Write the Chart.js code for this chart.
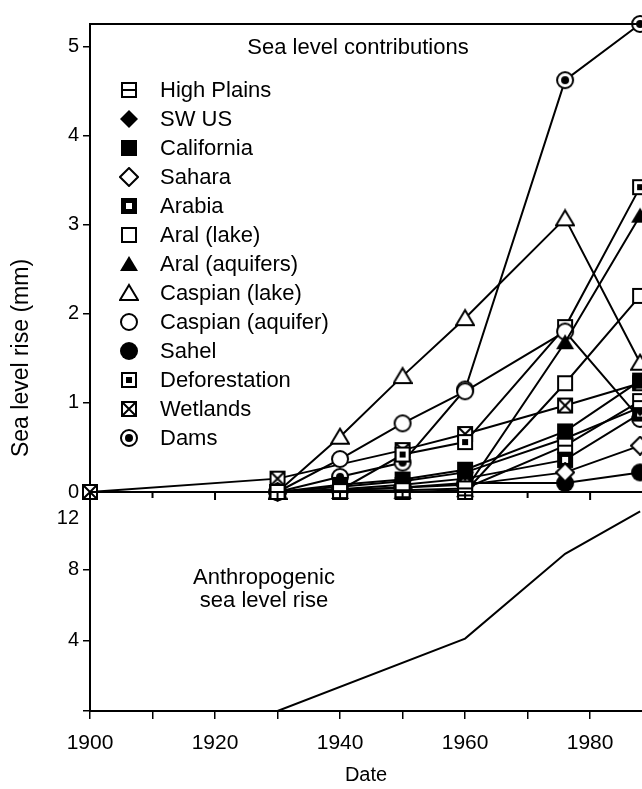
<!DOCTYPE html>
<html>
<head>
<meta charset="utf-8">
<script src="https://cdn.jsdelivr.net/npm/chart.js@4.4.1/dist/chart.umd.min.js"></script>
<style>
  html, body { margin: 0; padding: 0; background: #fff; }
  canvas { display: block; }
</style>
</head>
<body>
<canvas id="chart" width="642" height="789"></canvas>
<script>
// dates the contributions were read at
const years = [1900, 1930, 1940, 1950, 1960, 1976, 1988];

// sea level contributions (mm), one list per source, null = no point
const highPlains     = [null, 0, 0.01, 0.02, 0.04, 0.52, 1.02];
const swUS           = [null, 0, 0.06, 0.12, 0.22, 0.60, 0.95];
const california     = [null, 0, 0.08, 0.14, 0.25, 0.68, 1.25];
const sahara         = [null, 0, 0.02, 0.05, 0.08, 0.22, 0.52];
const arabia         = [null, 0, 0.03, 0.08, 0.15, 0.36, 0.88];
const aralLake       = [null, 0, 0, 0, 0, 1.22, 2.20];
const aralAquifers   = [null, 0, 0, 0, 0.02, 1.68, 3.10];
const caspianLake    = [null, 0, 0.62, 1.30, 1.95, 3.07, 1.45];
const caspianAquifer = [null, 0, 0.37, 0.77, 1.13, 1.80, 0.82];
const sahel          = [null, 0, 0.02, 0.05, 0.10, 0.10, 0.22];
const deforestation  = [null, 0, 0.02, 0.42, 0.56, 1.85, 3.42];
const wetlands       = [0, 0.15, null, 0.47, 0.65, 0.97, 1.22];
const dams           = [null, 0, 0.17, 0.33, 1.15, 4.62, 5.25];

const sourceNames = ['High Plains', 'SW US', 'California', 'Sahara', 'Arabia', 'Aral (lake)',
    'Aral (aquifers)', 'Caspian (lake)', 'Caspian (aquifer)', 'Sahel', 'Deforestation', 'Wetlands', 'Dams'];
const sourceValues = [highPlains, swUS, california, sahara, arabia, aralLake,
    aralAquifers, caspianLake, caspianAquifer, sahel, deforestation, wetlands, dams];
const sourceMarkers = ['hplains', 'diamondFill', 'squareFill', 'diamond', 'arabia', 'square',
    'triangleFill', 'triangle', 'circle', 'circleFill', 'squareDot', 'squareX', 'circleDot'];

// total anthropogenic sea level rise (mm)
const riseYears = [1900, 1930, 1960, 1976, 1988];
const riseValues = [0, 0, 4.1, 8.9, 11.3];

const topTicks = [0, 1, 2, 3, 4, 5];
const bottomTicks = [4, 8];
const bottomTopLabel = 12;   // sits a bit lower in the original, drawn by hand below
const dateTicks = [1900, 1920, 1940, 1960, 1980];

const FONT = '"Liberation Sans", Arial, Helvetica, sans-serif';

// little canvases used as point styles
function makeMarker(kind){
    let c = document.createElement('canvas');
    c.width = 20;
    c.height = 20;
    let g = c.getContext('2d');
    g.lineWidth = 2;
    g.strokeStyle = '#000';
    g.fillStyle = '#000';

    function openSquare(){
        g.fillStyle = '#fff';
        g.fillRect(3, 3, 14, 14);
        g.strokeRect(3, 3, 14, 14);
        g.fillStyle = '#000';
    }
    function diamond(){
        g.beginPath();
        g.moveTo(10, 1); g.lineTo(19, 10); g.lineTo(10, 19); g.lineTo(1, 10);
        g.closePath();
    }
    function triangle(){
        g.beginPath();
        g.moveTo(10, 2); g.lineTo(19, 17); g.lineTo(1, 17);
        g.closePath();
    }
    function circle(r){
        g.beginPath();
        g.arc(10, 10, r, 0, Math.PI * 2);
    }

    if(kind == 'square'){
        openSquare();
    }
    else if(kind == 'hplains'){
        openSquare();
        g.beginPath(); g.moveTo(3, 10); g.lineTo(17, 10); g.stroke();
    }
    else if(kind == 'squareFill'){
        g.fillRect(2, 2, 16, 16);
    }
    else if(kind == 'arabia'){
        g.fillRect(2, 2, 16, 16);
        g.fillStyle = '#fff';
        g.fillRect(7, 7, 6, 6);
    }
    else if(kind == 'squareDot'){
        openSquare();
        g.fillRect(7, 7, 6, 6);
    }
    else if(kind == 'squareX'){
        openSquare();
        g.beginPath();
        g.moveTo(4, 4); g.lineTo(16, 16);
        g.moveTo(16, 4); g.lineTo(4, 16);
        g.stroke();
    }
    else if(kind == 'diamondFill'){
        diamond(); g.fill();
    }
    else if(kind == 'diamond'){
        diamond(); g.fillStyle = '#fff'; g.fill(); g.stroke();
    }
    else if(kind == 'triangleFill'){
        triangle(); g.fill();
    }
    else if(kind == 'triangle'){
        triangle(); g.fillStyle = '#fff'; g.fill(); g.stroke();
    }
    else if(kind == 'circleFill'){
        circle(9); g.fill();
    }
    else if(kind == 'circle'){
        circle(8); g.fillStyle = '#fff'; g.fill(); g.stroke();
    }
    else if(kind == 'circleDot'){
        circle(8); g.fillStyle = '#fff'; g.fill(); g.stroke();
        g.fillStyle = '#000';
        circle(4); g.fill();
    }
    return c;
}

let datasets = [];

for(let i = 0; i < sourceNames.length; i++){
    let points = [];
    for(let j = 0; j < years.length; j++){
        if(sourceValues[i][j] !== null){
            points.push({x: years[j], y: sourceValues[i][j]});
        }
    }
    datasets.push({
        label: sourceNames[i],
        data: points,
        yAxisID: 'yTop',
        borderColor: '#000',
        borderWidth: 2,
        pointStyle: makeMarker(sourceMarkers[i]),
        pointRadius: 9,
        clip: false
    });
}

datasets.push({
    label: 'Anthropogenic sea level rise',
    data: riseYears.map((yr, i) => ({x: yr, y: riseValues[i]})),
    yAxisID: 'yBottom',
    borderColor: '#000',
    borderWidth: 2,
    pointRadius: 0
});

// frame line, panel divider, inside legend and the loose texts
const annotations = {
    id: 'annotations',
    afterDraw(chart){
        let ctx = chart.ctx;
        let area = chart.chartArea;
        let xs = chart.scales.x;
        let yb = chart.scales.yBottom;
        let divider = chart.scales.yTop.bottom;

        ctx.save();
        ctx.strokeStyle = '#000';
        ctx.lineWidth = 2;
        ctx.beginPath();
        ctx.moveTo(area.left, area.top);
        ctx.lineTo(area.right, area.top);
        ctx.moveTo(area.left, divider);
        ctx.lineTo(area.right, divider);
        xs.ticks.forEach(function(t){
            let px = xs.getPixelForValue(t.value);
            ctx.moveTo(px, divider);
            ctx.lineTo(px, divider + (t.value % 20 == 0 ? 8 : 6));
        });
        ctx.stroke();

        ctx.fillStyle = '#000';
        ctx.textBaseline = 'middle';

        ctx.font = '20px ' + FONT;
        ctx.textAlign = 'right';
        ctx.fillText(String(bottomTopLabel), area.left - 11, yb.getPixelForValue(bottomTopLabel) + 19);

        ctx.font = '22px ' + FONT;
        ctx.textAlign = 'center';
        ctx.fillText('Sea level contributions', 358, 48);

        ctx.textAlign = 'left';
        for(let i = 0; i < sourceNames.length; i++){
            let y = 90 + i * 29;
            ctx.drawImage(chart.data.datasets[i].pointStyle, 119, y - 10);
            ctx.fillText(sourceNames[i], 160, y + 1);
        }

        ctx.textAlign = 'center';
        ctx.font = '22px ' + FONT;
        ctx.fillText('Anthropogenic', 264, 578);
        ctx.fillText('sea level rise', 264, 601);

        ctx.font = '23px ' + FONT;
        ctx.translate(22, 358);
        ctx.rotate(-Math.PI / 2);
        ctx.fillText('Sea level rise (mm)', 0, 0);
        ctx.restore();
    }
};

const tickFont = {family: FONT, size: 20};

new Chart(document.getElementById('chart'), {
    type: 'line',
    data: {datasets: datasets},
    options: {
        responsive: false,
        animation: false,
        layout: {autoPadding: false, padding: {top: 24, right: 0, bottom: 0, left: 0}},
        plugins: {legend: {display: false}, tooltip: {enabled: false}},
        spanGaps: true,
        scales: {
            x: {
                type: 'linear',
                min: 1900,
                max: 1988.3,
                border: {color: '#000', width: 2},
                grid: {drawOnChartArea: false, color: '#000', tickLength: 8, lineWidth: 1.5},
                ticks: {
                    stepSize: 10,
                    includeBounds: false,
                    maxRotation: 0,
                    autoSkip: false,
                    color: '#000',
                    font: {family: FONT, size: 21},
                    padding: 12,
                    callback: v => dateTicks.includes(v) ? String(v) : ''
                },
                title: {display: true, text: 'Date', color: '#000', font: {family: FONT, size: 20}, padding: {top: 4, bottom: 2}},
                afterFit(scale){ scale.height = 78; }
            },
            yBottom: {
                type: 'linear',
                position: 'left',
                stack: 'panels',
                stackWeight: 219,
                min: 0,
                max: 12.4,
                border: {color: '#000', width: 2},
                grid: {drawOnChartArea: false, color: '#000', tickLength: 7, lineWidth: 1.5},
                ticks: {
                    stepSize: 2,
                    includeBounds: false,
                    color: '#000',
                    font: tickFont,
                    padding: 4,
                    callback: v => bottomTicks.includes(v) ? String(v) : ''
                },
                afterFit(scale){ scale.width = 90; }
            },
            yTop: {
                type: 'linear',
                position: 'left',
                stack: 'panels',
                stackWeight: 468,
                min: 0,
                max: 5.25,
                border: {color: '#000', width: 2},
                grid: {drawOnChartArea: false, color: '#000', tickLength: 7, lineWidth: 1.5},
                ticks: {
                    stepSize: 0.5,
                    includeBounds: false,
                    color: '#000',
                    font: tickFont,
                    padding: 4,
                    callback: v => topTicks.includes(v) ? String(v) : ''
                },
                afterFit(scale){ scale.width = 90; }
            }
        }
    },
    plugins: [annotations]
});
</script>
</body>
</html>
